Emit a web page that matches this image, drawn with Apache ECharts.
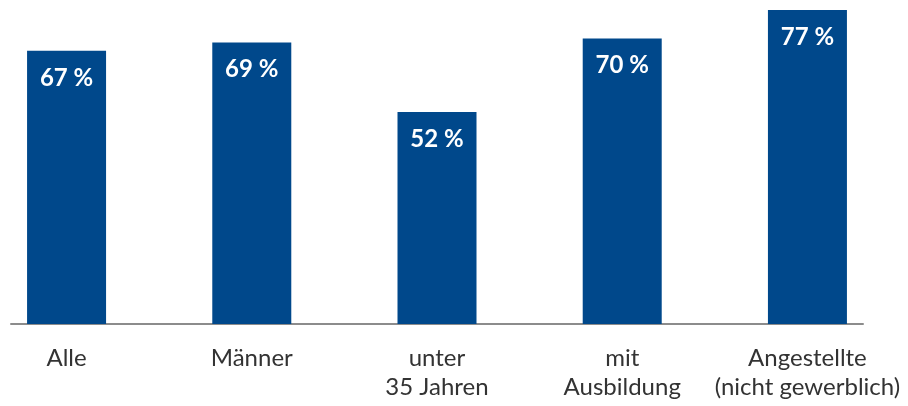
<!DOCTYPE html>
<html>
<head>
<meta charset="utf-8">
<script src="https://cdn.jsdelivr.net/npm/echarts@6/dist/echarts.min.js"></script>
<style>
  html, body { margin: 0; padding: 0; background: #fff; }
  #chart { width: 908px; height: 406px; }
</style>
</head>
<body>
<div id="chart"></div>
<script>
// categories and values
var categories = ["Alle", "Männer", "unter\n35 Jahren", "mit\nAusbildung", "Angestellte\n(nicht gewerblich)"];
var values = [67, 69, 52, 70, 77];
var positions = [0, 1, 2, 3, 4];

var barData = [];
for (var i = 0; i < categories.length; i++) {
  barData.push([positions[i], values[i]]);
}

var chart = echarts.init(document.getElementById("chart"));
chart.setOption({
  animation: false,
  grid: {
    left: 11,
    right: 45,
    top: 10,
    bottom: 82
  },
  xAxis: {
    type: "value",
    min: -0.3,
    max: 4.3,
    splitLine: { show: false },
    axisTick: { show: false },
    axisLine: {
      show: true,
      lineStyle: { color: "#8c8c8c", width: 2 }
    },
    axisLabel: {
      customValues: positions,
      formatter: function (v) {
        return categories[Math.round(v)];
      },
      color: "#333",
      fontFamily: "Lato",
      fontSize: 24,
      lineHeight: 29,
      margin: 20,
      verticalAlign: "top",
      align: "center"
    }
  },
  yAxis: {
    type: "value",
    min: 0,
    max: 77,
    show: false
  },
  series: [
    {
      type: "bar",
      barWidth: 79,
      data: barData,
      itemStyle: { color: "#00488b" },
      label: {
        show: true,
        position: "insideTop",
        distance: 15,
        color: "#fff",
        fontFamily: "Lato",
        fontWeight: "bold",
        fontSize: 24,
        formatter: function (p) {
          return p.value[1] + " %";
        }
      }
    }
  ]
});
</script>
</body>
</html>
